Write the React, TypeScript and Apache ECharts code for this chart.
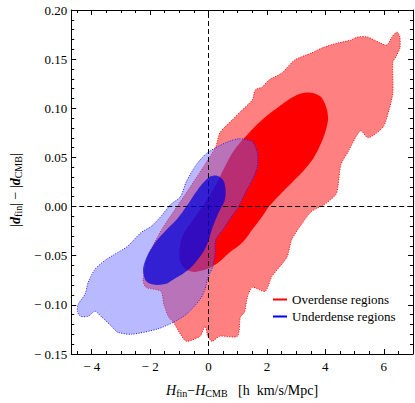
import React, { useEffect, useRef } from 'react';
import * as echarts from 'echarts';

const FONT = 'Liberation Serif';

const X_MIN = -4.7;
const X_MAX = 7;
const Y_MIN = -0.15;
const Y_MAX = 0.2;

const xLabelValues = [-4, -2, 0, 2, 4, 6];
const xMinorValues = [-4.5, -3.5, -3, -2.5, -1.5, -1, -0.5, 0.5, 1, 1.5, 2.5, 3, 3.5, 4.5, 5, 5.5, 6.5];
const yLabelValues = [-0.15, -0.1, -0.05, 0, 0.05, 0.1, 0.15, 0.2];
const yMinorValues = [
  -0.14, -0.13, -0.12, -0.11, -0.09, -0.08, -0.07, -0.06, -0.04, -0.03, -0.02, -0.01,
  0.01, 0.02, 0.03, 0.04, 0.06, 0.07, 0.08, 0.09, 0.11, 0.12, 0.13, 0.14, 0.16, 0.17, 0.18, 0.19,
];

const overOuter: number[][] = [
  [5.1, 0.1725], [5.44, 0.1725], [5.88, 0.1664], [6.11, 0.1643], [6.28, 0.1725], [6.45, 0.1775],
  [6.55, 0.1725], [6.55, 0.1613], [6.41, 0.1522], [6.31, 0.1471], [6.31, 0.1157], [6.18, 0.0984],
  [5.98, 0.0812], [5.47, 0.07], [5.2, 0.0771], [4.76, 0.0548], [4.53, 0.0426], [4.43, 0.0203],
  [4.36, 0.0122], [3.96, 0.002], [3.52, -0.0051], [3.25, -0.0152], [2.85, -0.0335], [2.68, -0.0517],
  [2.17, -0.071], [1.94, -0.0862], [1.5, -0.0822], [1.33, -0.0923], [1.23, -0.1075], [1.09, -0.1126],
  [0.99, -0.1319], [0.39, -0.1319], [0.12, -0.137], [-0.02, -0.1319], [-0.12, -0.1217], [-0.29, -0.1319],
  [-0.76, -0.137], [-0.96, -0.1299], [-1.2, -0.1177], [-1.36, -0.1126], [-1.53, -0.0994], [-1.63, -0.0862],
  [-2.14, -0.0822], [-2.24, -0.0741], [-2.04, -0.0487], [-1.6, -0.0233], [-1.03, 0.002], [-0.35, 0.0325],
  [0.25, 0.0609], [0.39, 0.0751], [0.82, 0.0883], [1.16, 0.0984], [1.5, 0.1086], [1.6, 0.1187],
  [1.84, 0.1217], [2.07, 0.1288], [2.51, 0.1359], [2.95, 0.1491], [3.52, 0.1562], [3.96, 0.1623],
  [4.43, 0.1664], [4.87, 0.1694],
];

const overInner: number[][] = [
  [3.28, 0.1157], [3.75, 0.1136], [3.96, 0.1065], [4.09, 0.0913], [4.02, 0.0781], [3.86, 0.0649],
  [3.62, 0.0507], [3.28, 0.0375], [2.85, 0.0243], [2.61, 0.0172], [2.07, 0.0], [1.84, -0.0101],
  [1.5, -0.0233], [1.16, -0.0365], [0.72, -0.0467], [0.25, -0.0588], [-0.19, -0.0649], [-0.62, -0.0659],
  [-0.93, -0.0588], [-0.99, -0.0436], [-0.86, -0.0284], [-0.52, -0.0132], [-0.12, 0.0041], [0.25, 0.0223],
  [0.56, 0.0406], [0.89, 0.0578], [1.33, 0.073], [1.84, 0.0883], [2.41, 0.1015], [2.85, 0.1106],
];

const underOuter: number[][] = [
  [1.06, 0.069], [1.5, 0.0659], [1.67, 0.0548], [1.67, 0.0406], [1.5, 0.0274], [1.26, 0.0142],
  [1.03, 0.0], [0.76, -0.0112], [0.49, -0.0233], [0.25, -0.0335], [0.22, -0.0467], [0.15, -0.0609],
  [-0.02, -0.072], [-0.12, -0.0842], [-0.29, -0.0943], [-0.76, -0.1096], [-1.2, -0.1177], [-1.77, -0.1248],
  [-2.64, -0.1299], [-3.11, -0.1278], [-3.32, -0.1217], [-3.65, -0.1126], [-3.89, -0.1065], [-4.12, -0.1116],
  [-4.39, -0.1116], [-4.49, -0.1065], [-4.46, -0.0994], [-4.23, -0.0893], [-4.12, -0.0771], [-3.89, -0.0639],
  [-3.55, -0.0548], [-3.22, -0.0487], [-2.78, -0.0406], [-2.31, -0.0264], [-1.97, -0.0203], [-1.63, -0.0101],
  [-1.3, 0.002], [-0.96, 0.0101], [-0.76, 0.0254], [-0.42, 0.0426], [-0.08, 0.0538], [0.25, 0.0599],
  [0.66, 0.0659],
];

const underInner: number[][] = [
  [0.15, 0.0314], [0.42, 0.0294], [0.56, 0.0223], [0.56, 0.0071], [0.35, -0.0061], [0.15, -0.0203],
  [-0.08, -0.0406], [-0.42, -0.0558], [-0.76, -0.0659], [-1.2, -0.0741], [-1.53, -0.0791], [-2.04, -0.0781],
  [-2.21, -0.071], [-2.21, -0.0588], [-1.87, -0.0386], [-1.43, -0.0233], [-1.09, -0.0132], [-0.76, 0.0],
  [-0.42, 0.0152], [-0.08, 0.0274],
];

const legendNames = ['Overdense regions', 'Underdense regions'];

const fmt = (v: number, digits: number) => {
  const s = Math.abs(v).toFixed(digits);
  return v < -1e-9 ? '\u2212 ' + s : s;
};

function makeAxis(dim: 'x' | 'y', position: string, ticks: number[], len: number, labels: number[] | null, showLine: boolean) {
  const isX = dim === 'x';
  const ax: any = {
    type: 'value',
    position,
    min: isX ? X_MIN : Y_MIN,
    max: isX ? X_MAX : Y_MAX,
    axisLine: { show: showLine, onZero: false, lineStyle: { color: '#000', width: 1 } },
    axisTick: { show: true, inside: true, length: len, customValues: ticks, lineStyle: { color: '#000', width: 1 } },
    splitLine: { show: false },
    minorTick: { show: false },
    axisLabel: labels
      ? {
          show: true,
          customValues: labels,
          formatter: (v: number) => fmt(v, isX ? 0 : 2),
          margin: isX ? 6 : 4,
          color: '#000',
          fontSize: 13,
          fontFamily: FONT,
        }
      : { show: false },
  };
  return ax;
}

function polygonSeries(name: string, pts: number[][], fill: string, stroke: string | null, smooth: number, z: number) {
  return {
    type: 'custom',
    name,
    xAxisIndex: 0,
    yAxisIndex: 0,
    z,
    silent: true,
    data: pts,
    encode: { x: 0, y: 1 },
    renderItem: (params: any, api: any) => {
      if (params.dataIndex !== 0) return null;
      const points = pts.map((p) => api.coord(p));
      return {
        type: 'polygon',
        shape: { points, smooth },
        style: stroke
          ? { fill, stroke, lineWidth: 1, lineDash: [1, 1.5] }
          : { fill, stroke: 'none', lineWidth: 0 },
      };
    },
  };
}

export default function App() {
  const ref = useRef<HTMLDivElement>(null);
  useEffect(() => {
    if (!ref.current) return;
    const chart = echarts.init(ref.current, null, { renderer: 'svg' });
    const xAxes = [
      makeAxis('x', 'bottom', xLabelValues, 5, xLabelValues, true),
      makeAxis('x', 'bottom', xMinorValues, 3, null, false),
      makeAxis('x', 'top', xLabelValues, 5, null, true),
      makeAxis('x', 'top', xMinorValues, 3, null, false),
    ];
    xAxes[0].name = '{h|H}{s|fin}{t|\u2212}{h|H}{s|CMB}{t|   [h  km/s/Mpc]}';
    xAxes[0].nameLocation = 'middle';
    xAxes[0].nameGap = 28;
    xAxes[0].nameTextStyle = {
      color: '#000',
      fontFamily: FONT,
      rich: {
        h: { fontFamily: FONT, fontStyle: 'italic', fontSize: 14, lineHeight: 16, color: '#000' },
        s: { fontFamily: FONT, fontSize: 10, lineHeight: 8, verticalAlign: 'bottom', color: '#000' },
        t: { fontFamily: FONT, fontSize: 14, lineHeight: 16, color: '#000' },
      },
    };
    const yAxes = [
      makeAxis('y', 'left', yLabelValues, 5, yLabelValues, true),
      makeAxis('y', 'left', yMinorValues, 3, null, false),
      makeAxis('y', 'right', yLabelValues, 5, null, true),
      makeAxis('y', 'right', yMinorValues, 3, null, false),
    ];
    yAxes[0].name = '{t||}{d|d}{s|fin}{t|| \u2212 |}{d|d}{s|CMB}{t||}';
    yAxes[0].nameLocation = 'middle';
    yAxes[0].nameGap = 44;
    yAxes[0].nameTextStyle = {
      color: '#000',
      fontFamily: FONT,
      padding: [0, 16, 0, 0],
      rich: {
        d: { fontFamily: FONT, fontStyle: 'italic', fontWeight: 'bold', fontSize: 14, lineHeight: 16, color: '#000' },
        s: { fontFamily: FONT, fontSize: 10, lineHeight: 8, verticalAlign: 'bottom', color: '#000' },
        t: { fontFamily: FONT, fontSize: 14, lineHeight: 16, color: '#000' },
      },
    };

    chart.setOption({
      animation: false,
      textStyle: { fontFamily: FONT },
      grid: { left: 66, right: 2, top: 10, bottom: 48, containLabel: false },
      xAxis: xAxes,
      yAxis: yAxes,
      legend: {
        left: 268,
        top: 288,
        orient: 'vertical',
        itemWidth: 14,
        itemHeight: 2,
        itemGap: 4,
        selectedMode: false,
        textStyle: { fontFamily: FONT, fontSize: 13, color: '#000' },
        data: [
          { name: legendNames[0], icon: 'rect', itemStyle: { color: '#ff0000' } },
          { name: legendNames[1], icon: 'rect', itemStyle: { color: '#0000ff' } },
        ],
      },
      series: [
        polygonSeries(legendNames[0], overOuter, '#ff8080', '#ff0000', 0.25, 2),
        polygonSeries(legendNames[0], overInner, '#ff0000', null, 0.4, 3),
        polygonSeries(legendNames[1], underOuter, 'rgba(100,100,255,0.45)', '#2020ff', 0.25, 4),
        polygonSeries(legendNames[1], underInner, 'rgba(0,0,220,0.72)', null, 0.4, 5),
        {
          type: 'line',
          name: 'zero lines',
          xAxisIndex: 0,
          yAxisIndex: 0,
          data: [],
          z: 10,
          markLine: {
            silent: true,
            symbol: ['none', 'none'],
            label: { show: false },
            lineStyle: { color: '#000', type: [5, 3], width: 1 },
            data: [{ xAxis: 0 }, { yAxis: 0 }],
          },
        },
      ],
    });
    return () => chart.dispose();
  }, []);
  return <div ref={ref} style={{ width: 415, height: 403, position: 'absolute', left: 0, top: 0 }} />;
}
